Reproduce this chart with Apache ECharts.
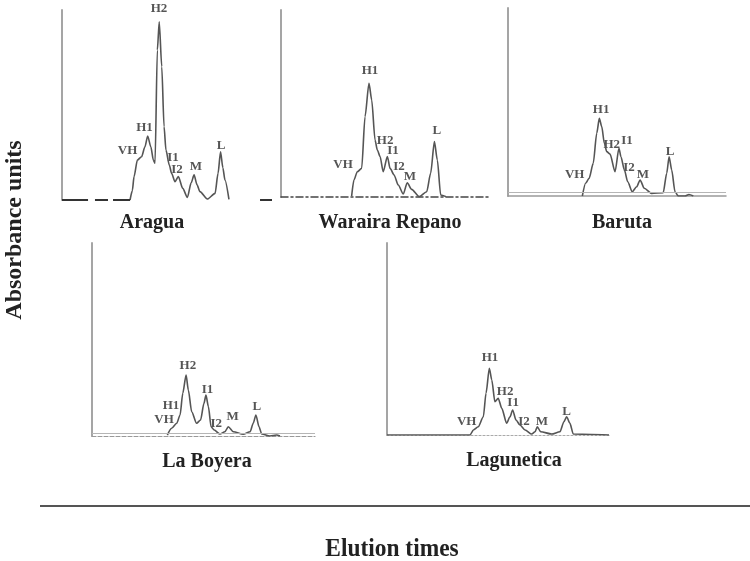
<!DOCTYPE html>
<html><head><meta charset="utf-8">
<script src="https://cdn.jsdelivr.net/npm/echarts@6/dist/echarts.min.js"></script>
<style>html,body{margin:0;padding:0;background:#fff}#c{width:750px;height:561px}</style>
</head><body><div id="c"></div>
<script>
// ---- data (elution time 0-100, absorbance 0-100) ----
const araguaCurve = [[32.4,0],[33.5,5],[34.3,12.3],[35.9,21],[37.9,22.8],[39.5,28],[40.8,33.7],[42.3,28],[43.5,21],[44.3,19.3],[45.4,78.9],[46.3,93.8],[47.5,70.2],[48.6,38.6],[49.5,26.3],[51.1,18.4],[52.2,14],[53.8,9.6],[55.4,12.3],[57.5,6.1],[59.7,1.4],[61.5,9],[62.9,13.2],[64.3,8],[65.7,4.4],[69.2,0.5],[72.9,3.5],[74.3,14],[75.5,25.4],[76.6,17],[77.6,10.5],[79.5,0.3]];
const araguaBaseline = [[0,0],[12.4,0],'-',[15.7,0],[21.9,0],'-',[24.3,0],[32.4,0],'-',[94.3,0],[100,0]];
const warairaCurve = [[33.8,0.5],[34.9,9.1],[36.5,13.5],[38.6,15.3],[40.2,42.9],[42.1,60.8],[43.4,51.9],[45,30.5],[46.1,25.1],[47.4,21.6],[48.9,13.5],[50.9,21.6],[52.2,15.3],[54.1,11.8],[56.1,6.4],[58.5,1.6],[60.4,7.6],[62.5,4.1],[66.2,0.2],[69.7,2.8],[71.6,12.7],[73.4,29.6],[74.8,19.8],[76.4,1.1],[79,0.2]];
const barutaCurve = [[34.1,0],[35.6,6.8],[37.2,9.4],[39.1,17.4],[40.7,33.4],[41.9,41.3],[43,36.9],[44.2,28],[45.3,23.6],[46.8,22.3],[49.1,12.9],[50.9,25.4],[51.8,20.9],[53.4,13.8],[54.9,7.6],[57,2.3],[59,4.9],[60.6,8.5],[62.5,4.1],[65.9,1.4],[71.2,1.8],[72.8,12.1],[73.9,20.9],[75.1,13.8],[76.6,2.3],[78.1,0],[81.2,0],[83,0.8],[85,0]];
const laBoyeraCurve = [[33.8,0.5],[35.7,4],[38,6.6],[39.5,10.9],[40.7,22.1],[42.2,31.6],[43.2,23.8],[44.7,12.6],[46.9,6.6],[48.7,8.3],[50.2,16.9],[51.1,21.2],[52.2,15.2],[53.4,4.8],[54.8,3.1],[57.4,1],[59.6,2.2],[61.1,4.8],[63.4,2.2],[67.8,0.9],[70.9,2.2],[72.3,6.6],[73.5,10.9],[74.9,4.8],[76.1,1],[79.8,0],[82.8,0.5],[84.3,0]];
const laguneticaCurve = [[0,0],[37.4,0],[38.9,2.6],[41.1,4.3],[43.4,9.5],[44.6,21.7],[46.1,34.7],[47.2,28.6],[48.6,17.3],[50.1,19.1],[51.7,13.9],[53.9,6.1],[55.4,9.5],[56.6,13],[58.1,7.8],[59.9,5.2],[62.2,2.6],[65.2,0.5],[66.7,1.7],[67.7,4.3],[69.2,1.7],[74.2,0.5],[77.9,1.7],[79.7,6.9],[80.9,9.5],[82.4,6.1],[83.9,0.5],[100,0]];

// peak annotations: [label, elution time, absorbance]
const araguaPeaks = [['H2',46.2,100.5],['H1',39.3,38.2],['VH',31.2,25.8],['I1',52.9,22.4],['I2',54.8,15.8],['M',63.8,17.4],['L',75.7,28.4]];
const warairaPeaks = [['H1',42.6,67.6],['H2',49.8,30.2],['I1',53.6,24.6],['I2',56.5,16.2],['M',61.7,10.9],['L',74.6,35.6],['VH',29.7,17.1]];
const barutaPeaks = [['H1',42.7,46],['H2',47.6,27.3],['I1',54.6,29.5],['I2',55.5,14.9],['M',61.9,11.2],['L',74.3,23.8],['VH',30.6,11.2]];
const laBoyeraPeaks = [['H2',43,36.4],['I1',51.8,23.8],['H1',35.4,15.9],['VH',32.3,8.5],['I2',55.7,6.4],['M',63.1,10],['L',73.9,15.2]];
const laguneticaPeaks = [['H1',46.4,40.3],['H2',53.2,22.6],['I1',56.8,16.8],['I2',61.7,6.9],['M',69.8,6.9],['L',80.9,12.1],['VH',35.9,7.1]];

const panelNames = ['Aragua','Waraira Repano','Baruta','La Boyera','Lagunetica'];
const yAxisTitle = 'Absorbance units';
const xAxisTitle = 'Elution times';

// ---- layout / style ----
const SERIF = '"Liberation Serif","Times New Roman",serif';
const grids = [
  {left:62, top:10, width:210, height:190},
  {left:281, top:10, width:209, height:187},
  {left:508, top:8, width:218, height:188},
  {left:92, top:243, width:223, height:193},
  {left:387, top:243, width:222, height:192}
];
const titlePos = [[152,223],[390,223],[622,223],[207,462],[514,461]];
const baseStyles = [
  {show:false},
  {show:true, lineStyle:{color:'#444', width:1.5, type:[7,3,2,3]}},
  {show:true, lineStyle:{color:'#9a9a9a', width:1.5}},
  {show:true, lineStyle:{color:'#999', width:1.2, type:[4,2]}},
  {show:true, lineStyle:{color:'#aaa', width:1.2, type:[2,2]}}
];
const secondLine = [null, null, 1.8, 1.3, null];
const curves = [araguaCurve, warairaCurve, barutaCurve, laBoyeraCurve, laguneticaCurve];
const peaks = [araguaPeaks, warairaPeaks, barutaPeaks, laBoyeraPeaks, laguneticaPeaks];

const xAxes = [], yAxes = [], series = [];
grids.forEach((g, i) => {
  g.outerBoundsMode = 'none';
  xAxes.push({gridIndex:i, type:'value', min:0, max:100, axisLine:baseStyles[i], axisTick:{show:false}, axisLabel:{show:false}, splitLine:{show:false}});
  yAxes.push({gridIndex:i, type:'value', min:0, max:100, axisLine:{show:true, onZero:false, lineStyle:{color:'#a5a5a5', width:2}}, axisTick:{show:false}, axisLabel:{show:false}, splitLine:{show:false}});
  const s = {type:'line', xAxisIndex:i, yAxisIndex:i, data:curves[i], showSymbol:false, smooth:0.25, smoothMonotone:'x', connectNulls:false,
    lineStyle:{color:'#555', width:1.6}, silent:true};
  if (secondLine[i] !== null) {
    s.markLine = {silent:true, symbol:'none', label:{show:false}, lineStyle:{color:'#b5b5b5', width:1, type:'solid'}, data:[{yAxis:secondLine[i]}]};
  }
  series.push(s);
  series.push({type:'scatter', xAxisIndex:i, yAxisIndex:i, clip:false, symbolSize:1, itemStyle:{color:'rgba(0,0,0,0)'}, silent:true,
    label:{show:true, position:'inside', formatter:'{b}', fontFamily:SERIF, fontWeight:'bold', fontSize:13, color:'#2a2a2a'},
    data: peaks[i].map(p => ({name:p[0], value:[p[1], p[2]]}))});
});
series.push({type:'line', xAxisIndex:0, yAxisIndex:0, data:araguaBaseline, showSymbol:false, connectNulls:false, lineStyle:{color:'#333', width:2}, silent:true});

const graphic = panelNames.map((n, i) => ({type:'text', x:titlePos[i][0], y:titlePos[i][1],
  style:{text:n, font:'bold 20px ' + SERIF, fill:'#222', textAlign:'center', textVerticalAlign:'middle'}}));
graphic.push({type:'text', x:15, y:230, rotation:Math.PI/2,
  style:{text:yAxisTitle, font:'bold 24px ' + SERIF, fill:'#222', textAlign:'center', textVerticalAlign:'middle'}});
graphic.push({type:'line', shape:{x1:40, y1:506, x2:750, y2:506}, style:{stroke:'#555', lineWidth:2}});
graphic.push({type:'text', x:392, y:549, scaleX:0.9,
  style:{text:xAxisTitle, font:'bold 26px ' + SERIF, fill:'#222', textAlign:'center', textVerticalAlign:'middle'}});

const chart = echarts.init(document.getElementById('c'), null, {renderer:'canvas'});
chart.setOption({animation:false, backgroundColor:'#fff', grid:grids, xAxis:xAxes, yAxis:yAxes, series:series, graphic:graphic});
</script>
</body></html>
